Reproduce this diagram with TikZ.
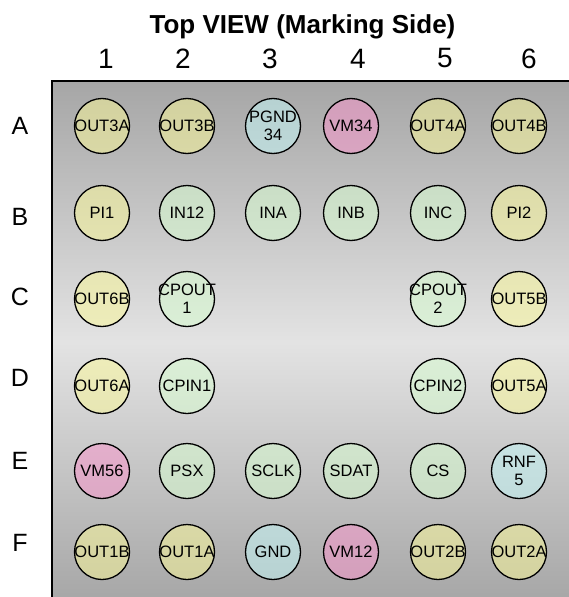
\documentclass[tikz,border=0pt]{standalone}
\usepackage{fontspec}
\setmainfont{Liberation Sans}

\definecolor{pinyellow}{RGB}{252,250,150}
\definecolor{pingreen}{RGB}{215,255,207}
\definecolor{pinpink}{RGB}{252,148,204}
\definecolor{pinblue}{RGB}{196,250,250}
\definecolor{bgdark}{RGB}{166,166,166}
\definecolor{bglight}{RGB}{227,227,227}

\begin{document}
\begin{tikzpicture}[
  x = 1pt, y = -1pt,
  ball/.style = {
    shape = circle,
    draw = black,
    line width = 1.3pt,
    minimum size = 55pt,
    inner sep = -10pt,
    outer sep = 0pt,
    fill opacity = 0.5,
    text opacity = 1,
    align = center,
    font = \fontsize{16.5}{18}\selectfont,
  },
  rowlabel/.style = { inner sep = 0pt, font = \fontsize{25}{30}\selectfont },
  collabel/.style = { inner sep = 0pt, font = \fontsize{28}{32}\selectfont }
]
  \useasboundingbox (0, 0) rectangle (569, 597);

  % package body
  \shade[top color = bgdark, bottom color = bgdark, middle color = bglight]
    (52, 81) rectangle (575, 603);
  \draw[line width = 1.5pt] (52, 603) -- (52, 81) -- (575, 81);

  \node[inner sep = 0pt, anchor = base, font = \bfseries\fontsize{26}{30}\selectfont]
    (title) at (302.5, 33) {Top VIEW (Marking Side)};

  \node[collabel] (c1) at (106, 58.5) {1};
  \node[collabel] (c2) at (183, 58.5) {2};
  \node[collabel] (c3) at (270, 58.5) {3};
  \node[collabel] (c4) at (358, 58.5) {4};
  \node[collabel] (c5) at (445, 58.5) {5};
  \node[collabel] (c6) at (529, 58.5) {6};

  \node[rowlabel] (rA) at (20, 126) {A};
  \node[rowlabel] (rB) at (20, 217) {B};
  \node[rowlabel] (rC) at (20, 297) {C};
  \node[rowlabel] (rD) at (20, 378) {D};
  \node[rowlabel] (rE) at (20, 461) {E};
  \node[rowlabel] (rF) at (20, 543) {F};

  % row A
  \node[ball, fill = pinyellow] (A1) at (102, 126) {OUT3A};
  \node[ball, fill = pinyellow] (A2) at (187, 126) {OUT3B};
  \node[ball, fill = pinblue]   (A3) at (273, 126) {PGND\\34};
  \node[ball, fill = pinpink]   (A4) at (351, 126) {VM34};
  \node[ball, fill = pinyellow] (A5) at (438, 126) {OUT4A};
  \node[ball, fill = pinyellow] (A6) at (519, 126) {OUT4B};

  % row B
  \node[ball, fill = pinyellow] (B1) at (102, 213) {PI1};
  \node[ball, fill = pingreen]  (B2) at (187, 213) {IN12};
  \node[ball, fill = pingreen]  (B3) at (273, 213) {INA};
  \node[ball, fill = pingreen]  (B4) at (351, 213) {INB};
  \node[ball, fill = pingreen]  (B5) at (438, 213) {INC};
  \node[ball, fill = pinyellow] (B6) at (519, 213) {PI2};

  % row C
  \node[ball, fill = pinyellow] (C1) at (102, 299) {OUT6B};
  \node[ball, fill = pingreen]  (C2) at (187, 299) {CPOUT\\1};
  \node[ball, fill = pingreen]  (C5) at (438, 299) {CPOUT\\2};
  \node[ball, fill = pinyellow] (C6) at (519, 299) {OUT5B};

  % row D
  \node[ball, fill = pinyellow] (D1) at (102, 386) {OUT6A};
  \node[ball, fill = pingreen]  (D2) at (187, 386) {CPIN1};
  \node[ball, fill = pingreen]  (D5) at (438, 386) {CPIN2};
  \node[ball, fill = pinyellow] (D6) at (519, 386) {OUT5A};

  % row E
  \node[ball, fill = pinpink]   (E1) at (102, 471) {VM56};
  \node[ball, fill = pingreen]  (E2) at (187, 471) {PSX};
  \node[ball, fill = pingreen]  (E3) at (273, 471) {SCLK};
  \node[ball, fill = pingreen]  (E4) at (351, 471) {SDAT};
  \node[ball, fill = pingreen]  (E5) at (438, 471) {CS};
  \node[ball, fill = pinblue]   (E6) at (519, 471) {RNF\\5};

  % row F
  \node[ball, fill = pinyellow] (F1) at (102, 552) {OUT1B};
  \node[ball, fill = pinyellow] (F2) at (187, 552) {OUT1A};
  \node[ball, fill = pinblue]   (F3) at (273, 552) {GND};
  \node[ball, fill = pinpink]   (F4) at (351, 552) {VM12};
  \node[ball, fill = pinyellow] (F5) at (438, 552) {OUT2B};
  \node[ball, fill = pinyellow] (F6) at (519, 552) {OUT2A};
\end{tikzpicture}
\end{document}
